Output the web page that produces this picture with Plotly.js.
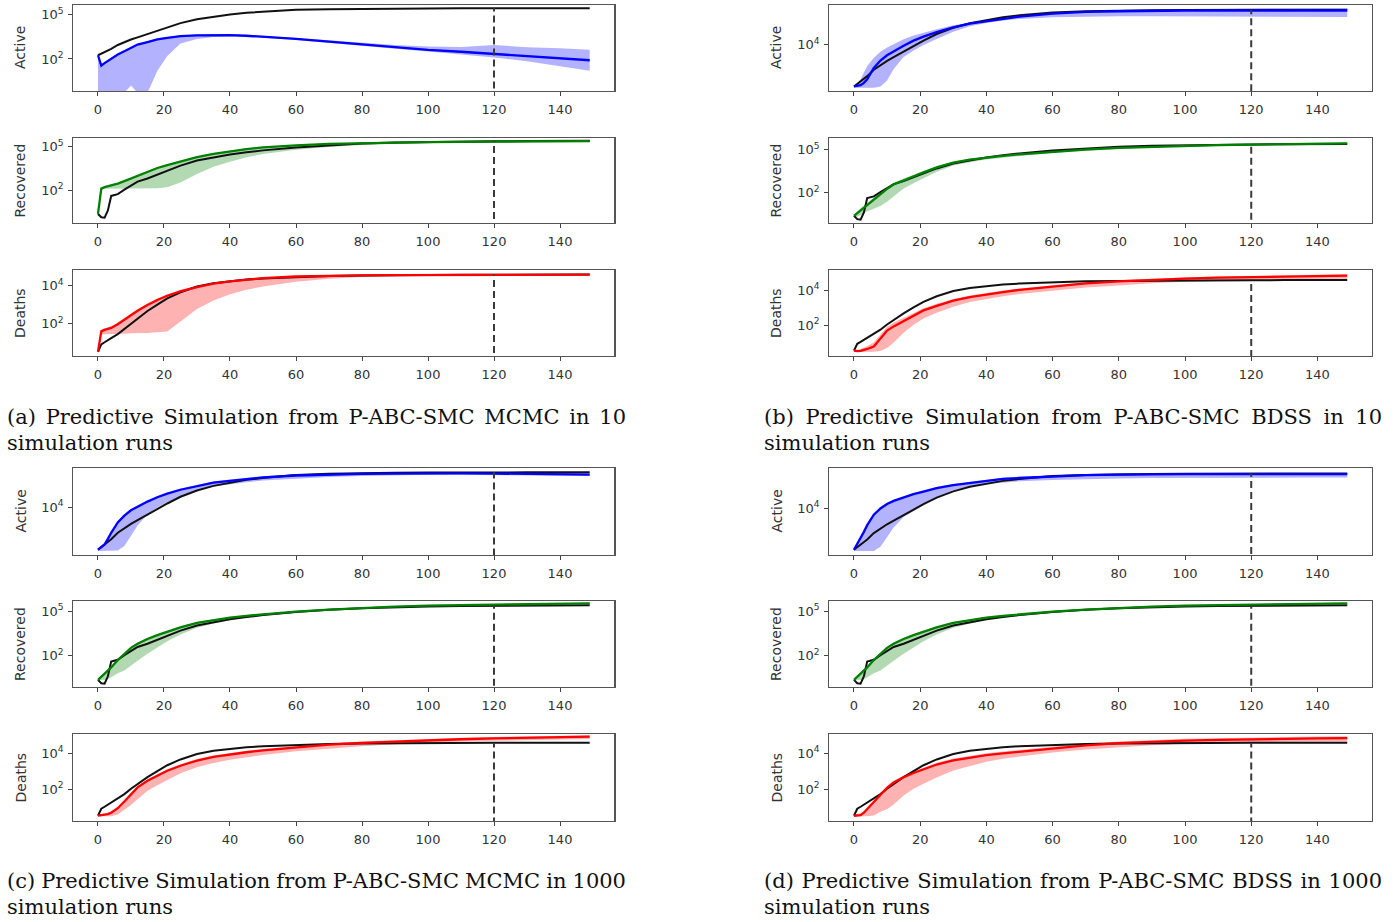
<!DOCTYPE html>
<html><head><meta charset="utf-8">
<script src="https://cdn.plot.ly/plotly-3.0.1.min.js"></script>
<style>html,body{margin:0;padding:0;background:#fff;} #chart{width:1395px;height:922px;}</style>
</head><body><div id="chart"></div>
<script>
// ---------------- data ----------------
const days = [0,1,2,3,4,6,8,10,12,15,18,21,25,30,35,40,45,50,60,70,80,90,100,110,120,130,140,149];

// observed series (black lines)
const obsActive    = [178,224,282,363,479,891,1410,2090,2950,5010,8710,14500,27500,50100,77600,1.07e5,1.38e5,1.66e5,2.19e5,2.45e5,2.63e5,2.69e5,2.75e5,2.82e5,2.82e5,2.82e5,2.82e5,2.82e5];
const obsRecovered = [2.3,1.35,1.26,4.0,39.8,52.5,107,214,380,631,1170,2340,4790,10700,18200,28200,39800,53700,85100,1.23e5,1.58e5,1.86e5,2.04e5,2.19e5,2.29e5,2.34e5,2.4e5,2.45e5];
const obsDeaths    = [3.4,8.3,10.7,14.1,17.8,28.8,53.7,107,200,468,1020,2140,4470,8910,13500,17400,20900,24000,28800,32400,33900,35500,36300,37200,37200,38000,38000,38000];

// (a) P-ABC-SMC MCMC, 10 runs
const aActMed = [178,35.5,52.5,75.9,105,200,331,562,955,1410,2140,2750,3550,4070,4270,4170,3800,3310,2290,1510,977,631,417,309,224,148,105,81.3];
const aActHi  = [200,44.7,63.1,89.1,120,240,398,661,1070,1580,2400,3090,3980,4570,4790,4680,4270,3800,2690,1860,1260,891,708,661,891,631,525,417];
const aActLo  = [0.5,0.5,0.5,0.5,0.5,0.5,0.5,1.58,0.5,0.5,15.8,158,1120,2290,3160,3390,3160,2820,1910,1260,794,501,316,200,126,70.8,31.6,15.8];
const aRecMed = [2.3,126,158,178,200,282,417,631,1000,1780,3310,5250,9330,18200,30900,47900,66100,85100,1.2e5,1.48e5,1.7e5,1.86e5,2.0e5,2.09e5,2.19e5,2.24e5,2.29e5,2.34e5];
const aRecHi  = [2.3,141,178,200,224,316,468,708,1120,2000,3720,5890,10500,20400,34700,53700,74100,95500,1.32e5,1.62e5,1.86e5,2.04e5,2.19e5,2.29e5,2.4e5,2.45e5,2.51e5,2.57e5];
const aRecLo  = [2.3,126,126,126,126,126,126,126,126,126,132,158,331,1260,3980,8910,17800,30200,58900,93300,1.26e5,1.51e5,1.74e5,1.95e5,2.09e5,2.14e5,2.19e5,2.24e5];
const aDeaMed = [3.4,39.8,47.9,55,60.3,95.5,166,282,479,955,1780,2950,5010,8320,12600,16600,20400,24500,30200,33100,34700,35500,36300,37200,37200,38000,38000,38000];
const aDeaHi  = [3.4,47.9,57.5,66.1,72.4,115,200,339,575,1150,2140,3550,6030,10000,14800,19100,22900,26900,32400,35500,37200,38000,38900,39800,39800,40700,40700,40700];
const aDeaLo  = [3.4,28.2,28.2,28.2,28.8,29.5,30.2,31.6,31.6,33.1,35.5,39.8,132,603,1660,3550,6030,8910,15800,22900,28200,32400,34700,35500,36300,37200,37200,37200];

// (b) P-ABC-SMC BDSS, 10 runs
const bActMed = [178,182,200,251,355,1050,2140,3550,5250,8910,14500,21400,33100,52500,74100,93300,1.17e5,1.45e5,1.95e5,2.29e5,2.45e5,2.57e5,2.63e5,2.63e5,2.63e5,2.63e5,2.63e5,2.63e5];
const bActHi  = [191,224,355,631,1260,2820,5010,7590,10700,16600,24000,31600,43700,63100,83200,1.05e5,1.26e5,1.51e5,2.0e5,2.4e5,2.63e5,2.82e5,2.95e5,3.02e5,3.09e5,3.16e5,3.16e5,3.16e5];
const bActLo  = [158,158,158,158,158,158,178,316,955,3020,5620,9550,17000,33900,57500,79400,1.0e5,1.17e5,1.38e5,1.48e5,1.51e5,1.51e5,1.51e5,1.48e5,1.48e5,1.45e5,1.41e5,1.41e5];
const bRecMed = [2.3,3.55,5.62,8.9,13.8,31.6,75.9,178,363,708,1320,2510,5620,12000,20000,28200,36300,46800,70800,1.0e5,1.32e5,1.58e5,1.82e5,2.04e5,2.24e5,2.45e5,2.63e5,2.75e5];
const bRecHi  = [2.5,5.0,7.9,12.6,19.1,44.7,105,240,479,933,1740,3160,6920,14100,22900,31600,40700,52500,79400,1.12e5,1.48e5,1.78e5,2.04e5,2.29e5,2.51e5,2.75e5,2.95e5,3.09e5];
const bRecLo  = [2.3,2.0,2.5,3.55,4.8,7.1,11.2,22.4,52.5,186,447,1000,2820,7590,13200,20000,26900,35500,58900,85100,1.15e5,1.41e5,1.62e5,1.82e5,2.0e5,2.14e5,2.29e5,2.4e5];
const bDeaMed = [3.4,3.16,3.3,3.6,4.2,5.8,17.8,47.9,83.2,170,355,692,1260,2510,3980,5750,7760,10500,16600,24500,32400,39800,45700,52500,57500,61700,66100,69200];
const bDeaHi  = [3.5,3.8,4.2,5.0,6.3,10,28.2,79.4,141,263,501,933,1660,3160,5010,7240,9550,12600,20000,28800,38000,46800,53700,61700,67600,74100,79400,83200];
const bDeaLo  = [3.2,2.8,2.8,2.8,2.8,2.9,3.2,4.8,10,35.5,105,240,501,1120,2090,3160,4470,6030,9550,14100,18600,25100,30200,34700,38900,41700,43700,44700];

// (c) P-ABC-SMC MCMC, 1000 runs
const cActMed = [178,224,295,501,891,2400,4570,7590,10700,17400,26300,37200,53700,77600,1.05e5,1.26e5,1.51e5,1.74e5,2.09e5,2.34e5,2.45e5,2.51e5,2.57e5,2.57e5,2.51e5,2.45e5,2.34e5,2.29e5];
const cActHi  = [191,251,331,562,1000,2690,5130,8510,12000,19500,29500,41700,60300,87100,1.17e5,1.41e5,1.7e5,1.95e5,2.34e5,2.63e5,2.75e5,2.82e5,2.88e5,2.88e5,2.82e5,2.75e5,2.63e5,2.57e5];
const cActLo  = [158,158,158,158,158,166,251,708,1780,5250,10000,16600,28200,51300,72400,91200,1.1e5,1.29e5,1.58e5,1.82e5,2.0e5,2.14e5,2.24e5,2.24e5,2.19e5,2.14e5,2.04e5,2.0e5];
const cRecMed = [2.3,3.8,5.6,8.9,15.8,50.1,132,331,631,1320,2400,4170,7940,15800,25100,36300,47900,60300,91200,1.26e5,1.62e5,2.0e5,2.34e5,2.57e5,2.75e5,2.95e5,3.16e5,3.31e5];
const cRecHi  = [2.5,4.6,6.8,10.7,19.1,60.3,158,398,759,1580,2880,5010,9550,18600,28200,39800,52500,66100,1.0e5,1.38e5,1.78e5,2.19e5,2.57e5,2.82e5,3.02e5,3.24e5,3.47e5,3.63e5];
const cRecLo  = [2.3,2.24,2.24,2.5,3.55,6.3,10,20,44.7,132,355,933,2630,7590,14800,25100,36300,47900,77600,1.1e5,1.45e5,1.78e5,2.09e5,2.34e5,2.51e5,2.69e5,2.88e5,3.02e5];
const cDeaMed = [3.4,3.7,3.7,4.2,5.0,8.9,20.9,52.5,126,295,550,1050,2000,3890,6170,8510,11200,14100,21400,29500,37200,44700,51300,58900,66100,72400,77600,81300];
const cDeaHi  = [3.6,4.2,4.4,5.0,6.0,10.7,25.1,63.1,151,355,661,1260,2400,4680,7410,10200,13500,17000,25700,35500,44700,53700,61700,70800,79400,87100,93300,97700];
const cDeaLo  = [3.2,3.16,3.16,3.16,3.16,4.0,7.1,13.2,28.2,83.2,166,331,759,1660,2820,4270,5890,7940,12600,17800,24000,30900,37200,43700,49000,53700,57500,60300];

// (d) P-ABC-SMC BDSS, 1000 runs
const dActMed = [178,302,513,1000,1910,5250,9550,14800,20000,28200,38000,49000,69200,91200,1.12e5,1.38e5,1.66e5,1.82e5,2.14e5,2.4e5,2.51e5,2.63e5,2.63e5,2.63e5,2.63e5,2.63e5,2.63e5,2.63e5];
const dActHi  = [200,339,575,1120,2140,5890,10700,16600,22400,31600,42700,55000,77600,1.02e5,1.26e5,1.55e5,1.86e5,2.04e5,2.4e5,2.69e5,2.82e5,2.95e5,2.95e5,2.95e5,2.95e5,2.95e5,2.95e5,2.95e5];
const dActLo  = [158,158,158,158,158,158,240,631,1510,4170,7590,14100,28800,56200,83200,1.02e5,1.2e5,1.32e5,1.51e5,1.66e5,1.74e5,1.82e5,1.86e5,1.91e5,1.91e5,1.91e5,1.91e5,1.91e5];
const dRecMed = [2.3,3.8,5.6,8.9,15.8,50.1,132,331,631,1320,2400,4170,7940,15800,25100,36300,47900,60300,91200,1.26e5,1.62e5,2.0e5,2.34e5,2.57e5,2.75e5,2.95e5,3.16e5,3.31e5];
const dRecHi  = [2.5,4.6,6.8,10.7,19.1,60.3,158,398,759,1580,2880,5010,9550,18600,28200,39800,52500,66100,1.0e5,1.38e5,1.78e5,2.19e5,2.57e5,2.82e5,3.02e5,3.24e5,3.47e5,3.63e5];
const dRecLo  = [2.3,2.24,2.24,2.5,3.55,6.3,10,20,44.7,132,355,933,2630,7590,14800,25100,36300,47900,77600,1.1e5,1.45e5,1.78e5,2.09e5,2.34e5,2.51e5,2.69e5,2.88e5,3.02e5];
const dDeaMed = [3.4,3.7,3.7,5.0,7.9,20,50.1,120,234,457,794,1260,2340,3980,5750,7760,9770,12000,18600,26900,35500,42700,49000,53700,58900,63100,66100,67600];
const dDeaHi  = [3.6,4.4,4.6,6.3,10,25.1,63.1,151,295,575,1000,1580,2950,5010,7240,9770,12300,15100,23400,33900,44700,53700,61700,67600,74100,79400,83200,85100];
const dDeaLo  = [3.2,3.16,3.16,3.16,3.16,3.55,5.6,7.9,14.1,44.7,105,200,447,1100,2000,3310,4900,6460,10700,15800,21400,27500,33100,37200,40700,42700,43700,44700];

const cutoffDay = 120;
const compartments = ['Active','Recovered','Deaths'];
const xTickVals = [0,20,40,60,80,100,120,140];
const captions = [
  ['(a) Predictive Simulation from P-ABC-SMC MCMC in 10', 'simulation runs'],
  ['(b) Predictive Simulation from P-ABC-SMC BDSS in 10', 'simulation runs'],
  ['(c) Predictive Simulation from P-ABC-SMC MCMC in 1000', 'simulation runs'],
  ['(d) Predictive Simulation from P-ABC-SMC BDSS in 1000', 'simulation runs']
];

// ---------------- presentation ----------------
const W = 1395, H = 922;
const colors = {Active:'#0000ff', Recovered:'#008000', Deaths:'#ff0000'};
const fills  = {Active:'rgba(0,0,255,0.3)', Recovered:'rgba(0,128,0,0.3)', Deaths:'rgba(255,0,0,0.3)'};
const colX = [[73.4, 614.3], [829.3, 1371.9]];          // plot frame, px
const rowY = [[5,91],[138,223],[270,356],[468,555],[601,687],[734,821]];
const panels = [
  {col:0, row0:0, sims:[[aActMed,aActHi,aActLo],[aRecMed,aRecHi,aRecLo],[aDeaMed,aDeaHi,aDeaLo]],
   yr:[[-0.18,5.67],[-0.26,5.58],[0.31,4.82]], yt:[[1e2,1e5],[1e2,1e5],[1e2,1e4]]},
  {col:1, row0:0, sims:[[bActMed,bActHi,bActLo],[bRecMed,bRecHi,bRecLo],[bDeaMed,bDeaHi,bDeaLo]],
   yr:[[2.06,5.65],[-0.14,5.81],[0.22,5.16]], yt:[[1e4],[1e2,1e5],[1e2,1e4]]},
  {col:0, row0:3, sims:[[cActMed,cActHi,cActLo],[cRecMed,cRecHi,cRecLo],[cDeaMed,cDeaHi,cDeaLo]],
   yr:[[2.03,5.63],[-0.12,5.68],[0.24,5.06]], yt:[[1e4],[1e2,1e5],[1e2,1e4]]},
  {col:1, row0:3, sims:[[dActMed,dActHi,dActLo],[dRecMed,dRecHi,dRecLo],[dDeaMed,dDeaHi,dDeaLo]],
   yr:[[2.03,5.68],[-0.12,5.68],[0.24,5.06]], yt:[[1e4],[1e2,1e5],[1e2,1e4]]}
];
const observed = [obsActive, obsRecovered, obsDeaths];

const traces = [];
const layout = {
  width: W, height: H, margin:{l:0,r:0,t:0,b:0},
  paper_bgcolor:'#fff', plot_bgcolor:'#fff', showlegend:false,
  annotations: []
};
const tickFont = {family:'DejaVu Sans, sans-serif', size:13, color:'#333'};
function supLabel(v){ return '10<sup>' + Math.round(Math.log10(v)) + '</sup>'; }

let k = 0;
panels.forEach((p, pi) => {
  compartments.forEach((name, ci) => {
    k++;
    const xa = 'x' + k, ya = 'y' + k;
    const [x0, x1] = colX[p.col];
    const [t, b] = rowY[p.row0 + ci];
    layout['xaxis' + k] = {
      domain:[x0/W, x1/W], anchor: ya, range:[-7.45,156.45],
      tickmode:'array', tickvals: xTickVals, ticks:'outside', ticklen:4, tickwidth:1, tickcolor:'#444',
      ticklabelstandoff: 2,
      showline:true, mirror:true, linecolor:'#555', linewidth:1.2,
      showgrid:false, zeroline:false, tickfont: tickFont, fixedrange:true
    };
    layout['yaxis' + k] = {
      domain:[1 - b/H, 1 - t/H], anchor: xa, type:'log', range: p.yr[ci],
      tickmode:'array', tickvals: p.yt[ci], ticktext: p.yt[ci].map(supLabel),
      ticks:'outside', ticklen:4, tickwidth:1, tickcolor:'#444', ticklabelstandoff: 2,
      showline:true, mirror:true, linecolor:'#555', linewidth:1.2,
      showgrid:false, zeroline:false, tickfont: tickFont, fixedrange:true
    };
    const [med, hi, lo] = p.sims[ci];
    const obs = observed[ci];
    traces.push({x: days, y: lo, xaxis: xa, yaxis: ya, mode:'lines', line:{width:0, color:fills[name]}, hoverinfo:'skip'});
    traces.push({x: days, y: hi, xaxis: xa, yaxis: ya, mode:'lines', line:{width:0, color:fills[name]},
                 fill:'tonexty', fillcolor: fills[name], hoverinfo:'skip'});
    traces.push({x: days, y: obs, xaxis: xa, yaxis: ya, mode:'lines', line:{width:2, color:'#111'}, hoverinfo:'skip'});
    traces.push({x: days, y: med, xaxis: xa, yaxis: ya, mode:'lines', line:{width:2.3, color:colors[name]}, hoverinfo:'skip'});
    const ci120 = days.indexOf(cutoffDay);
    traces.push({x: [cutoffDay, cutoffDay], y: [1e-3, obs[ci120]], xaxis: xa, yaxis: ya, mode:'lines',
                 line:{width:2, color:'#3a3a3a', dash:'7px,4px'}, hoverinfo:'skip'});
    // y-axis title
    layout.annotations.push({
      text: name, xref:'paper', yref:'paper', x: (p.col === 0 ? 20 : 776)/W, y: 1 - ((t + b)/2)/H,
      xanchor:'center', yanchor:'middle', textangle:-90, showarrow:false,
      font:{family:'DejaVu Sans, sans-serif', size:14, color:'#333'}
    });
  });
});

// captions
const justify = {};
const capFont = {family:'DejaVu Serif, serif', size:21, color:'#111'};
const capPos = [[5, 417, 624],[762, 417, 1380],[5, 881, 624],[762, 881, 1380]];
captions.forEach((c, i) => {
  const [cx, cy, cr] = capPos[i];
  justify[layout.annotations.length] = cr - cx;
  layout.annotations.push({text: c[0], xref:'paper', yref:'paper', x: cx/W, y: 1 - cy/H,
    xanchor:'left', yanchor:'middle', showarrow:false, font: capFont});
  layout.annotations.push({text: c[1], xref:'paper', yref:'paper', x: cx/W, y: 1 - (cy + 26)/H,
    xanchor:'left', yanchor:'middle', showarrow:false, font: capFont});
});

Plotly.newPlot('chart', traces, layout, {staticPlot:true, displayModeBar:false}).then(gd => {
  gd.querySelectorAll('g.annotation').forEach(g => {
    const i = +g.getAttribute('data-index');
    if (!(i in justify)) return;
    const t = g.querySelector('text');
    if (!t) return;
    const b0 = t.getBBox();
    const n = (t.textContent.match(/ /g) || []).length;
    t.style.wordSpacing = ((justify[i] - b0.width) / n) + 'px';
    const b1 = t.getBBox();
    const prev = t.getAttribute('transform') || '';
    t.setAttribute('transform', 'translate(' + (b0.x - b1.x) + ',0) ' + prev);
  });
});
</script>
</body></html>
